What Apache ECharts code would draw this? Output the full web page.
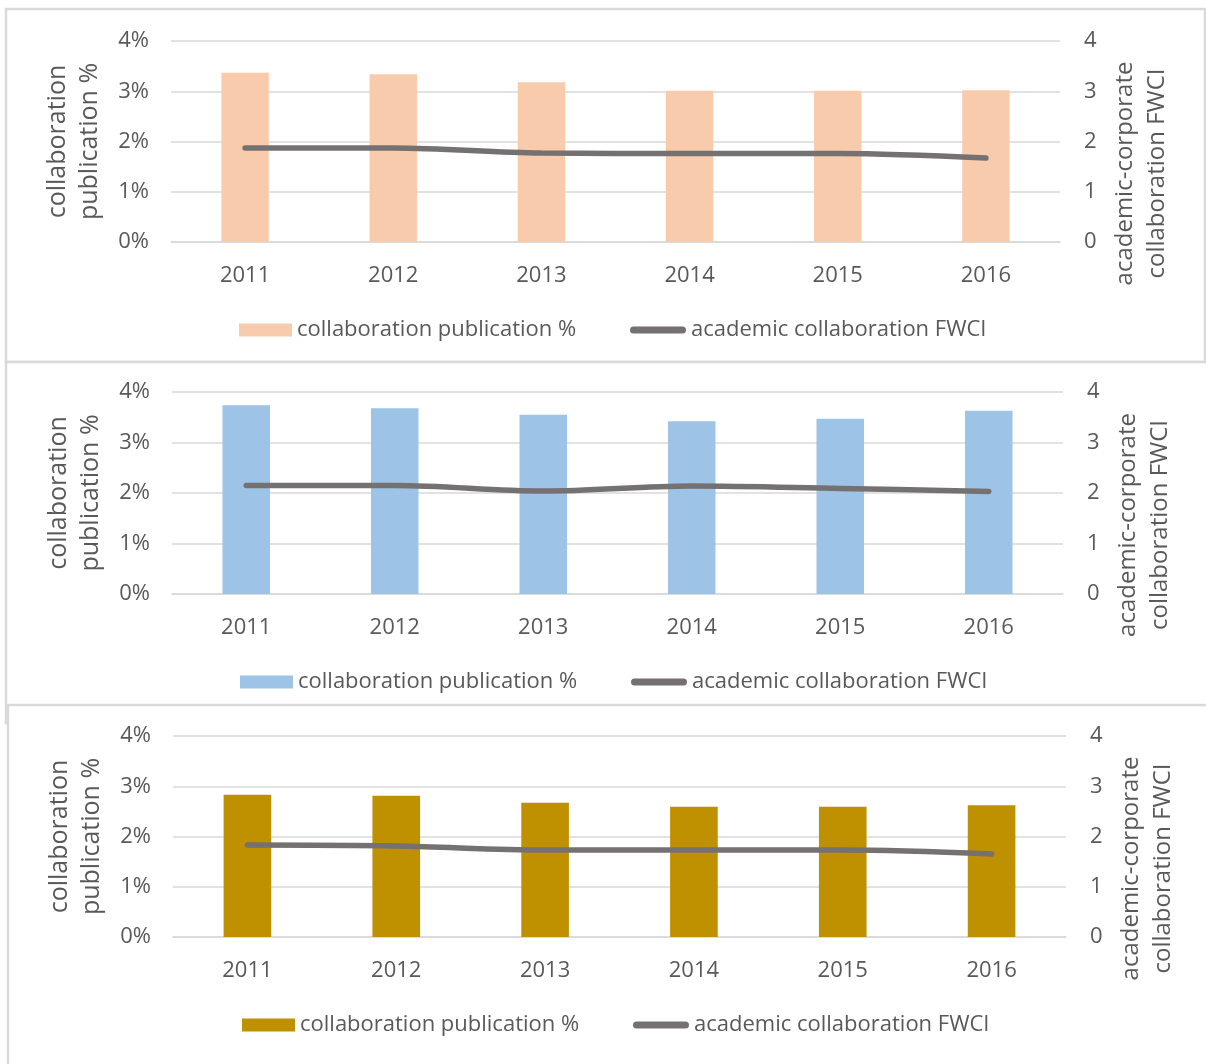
<!DOCTYPE html>
<html>
<head>
<meta charset="utf-8">
<script src="https://cdn.jsdelivr.net/npm/echarts@6/dist/echarts.min.js"></script>
<style>
  html, body { margin: 0; padding: 0; background: #ffffff; }
  #chart { width: 1206px; height: 1064px; }
</style>
</head>
<body>
<div id="chart"></div>
<script>
// Years on the category axis
const years = ['2011', '2012', '2013', '2014', '2015', '2016'];

// Share of publications from academic-corporate collaboration (%), one array per panel
const shareTop = [3.37, 3.34, 3.18, 3.01, 3.01, 3.02];
const shareMiddle = [3.74, 3.68, 3.55, 3.42, 3.47, 3.63];
const shareBottom = [2.83, 2.81, 2.67, 2.59, 2.59, 2.62];

// Field-weighted citation impact of those collaborations, one array per panel
const fwciTop = [1.87, 1.87, 1.77, 1.76, 1.76, 1.67];
const fwciMiddle = [2.15, 2.15, 2.04, 2.14, 2.09, 2.03];
const fwciBottom = [1.83, 1.81, 1.73, 1.73, 1.73, 1.65];

// Tick values shared by both value axes
const shareTicks = [0, 1, 2, 3, 4];
const fwciTicks = [0, 1, 2, 3, 4];

const barName = 'collaboration publication %';
const lineName = 'academic collaboration FWCI';
const leftAxisName = 'collaboration\npublication %';
const rightAxisName = 'academic-corporate\ncollaboration FWCI';

const FONT = '"Open Sans", "Noto Sans", sans-serif';
const TEXT = '#595959';
const GRID_LINE = '#d9d9d9';
const LINE_COLOR = '#757171';

// Layout of each panel: plot box, legend row and colour
const panels = [
  { share: shareTop, fwci: fwciTop, color: '#f8cbad', left: 171, right: 1060, top: 41, bottom: 242, legendY: 330, barLegendX: 239, lineLegendX: 630 },
  { share: shareMiddle, fwci: fwciMiddle, color: '#9dc3e6', left: 172, right: 1063, top: 392, bottom: 594, legendY: 682, barLegendX: 240, lineLegendX: 631 },
  { share: shareBottom, fwci: fwciBottom, color: '#bf9000', left: 173, right: 1066, top: 736, bottom: 937, legendY: 1025, barLegendX: 242, lineLegendX: 633 }
];

const grid = [], xAxis = [], yAxis = [], series = [], legend = [];
const legendText = { color: TEXT, fontFamily: FONT, fontSize: 22, lineHeight: 26 };

panels.forEach((p, i) => {
  grid.push({
    left: p.left, top: p.top, width: p.right - p.left, height: p.bottom - p.top,
    containLabel: false, outerBoundsMode: 'none'
  });
  xAxis.push({
    type: 'category', gridIndex: i, data: years,
    axisLine: { show: true, lineStyle: { color: GRID_LINE, width: 1.5 } },
    axisTick: { show: false },
    axisLabel: { color: TEXT, fontFamily: FONT, fontSize: 22, margin: 23 }
  });
  yAxis.push({
    type: 'value', gridIndex: i, min: shareTicks[0], max: shareTicks[shareTicks.length - 1], interval: 1,
    name: leftAxisName, nameLocation: 'middle', nameRotate: 90, nameGap: 65,
    nameTextStyle: { color: TEXT, fontFamily: FONT, fontSize: 25, lineHeight: 32 },
    axisLine: { show: false }, axisTick: { show: false },
    axisLabel: { color: TEXT, fontFamily: FONT, fontSize: 22, margin: 22, formatter: '{value}%' },
    splitLine: { lineStyle: { color: GRID_LINE, width: 1.5 } }
  });
  yAxis.push({
    type: 'value', gridIndex: i, position: 'right', min: fwciTicks[0], max: fwciTicks[fwciTicks.length - 1], interval: 1,
    name: rightAxisName, nameLocation: 'middle', nameRotate: 90, nameGap: 49,
    nameTextStyle: { color: TEXT, fontFamily: FONT, fontSize: 24, lineHeight: 32, padding: [0, 64, 0, 0] },
    axisLine: { show: false }, axisTick: { show: false },
    axisLabel: { color: TEXT, fontFamily: FONT, fontSize: 22, margin: 24 },
    splitLine: { show: false }
  });
  series.push({
    name: barName, type: 'bar', xAxisIndex: i, yAxisIndex: i * 2,
    data: p.share, barWidth: '32%', itemStyle: { color: p.color }
  });
  series.push({
    name: lineName, type: 'line', xAxisIndex: i, yAxisIndex: i * 2 + 1,
    data: p.fwci, smooth: 0.35, symbol: 'none',
    lineStyle: { color: LINE_COLOR, width: 5.5, cap: 'round' }, itemStyle: { color: LINE_COLOR }
  });
  legend.push({
    left: p.barLegendX, top: p.legendY - 13, padding: 0,
    itemWidth: 53, itemHeight: 13, selectedMode: false, textStyle: legendText,
    data: [{ name: barName, icon: 'rect', itemStyle: { color: p.color } }]
  });
  legend.push({
    left: p.lineLegendX, top: p.legendY - 13, padding: 0,
    itemWidth: 56, itemHeight: 7, selectedMode: false, textStyle: legendText,
    data: [{ name: lineName, icon: 'path://M3.5,0 L52.5,0 A3.5,3.5 0 0 1 52.5,7 L3.5,7 A3.5,3.5 0 0 1 3.5,0 Z', itemStyle: { color: LINE_COLOR } }]
  });
});

// Panel frames drawn behind the plots
const frame = { stroke: '#d9d9d9', lineWidth: 2.5, fill: '#ffffff' };
const graphic = [
  { type: 'rect', z: -10, shape: { x: 6, y: 9, width: 1199, height: 353 }, style: frame, silent: true },
  { type: 'rect', z: -9, shape: { x: 6, y: 362, width: 1215, height: 361 }, style: frame, silent: true },
  { type: 'rect', z: -8, shape: { x: 8, y: 705, width: 1215, height: 380 }, style: frame, silent: true }
];

const chart = echarts.init(document.getElementById('chart'), null, { renderer: 'canvas' });
chart.setOption({
  animation: false,
  backgroundColor: '#ffffff',
  grid, xAxis, yAxis, series, legend, graphic
});
</script>
</body>
</html>
